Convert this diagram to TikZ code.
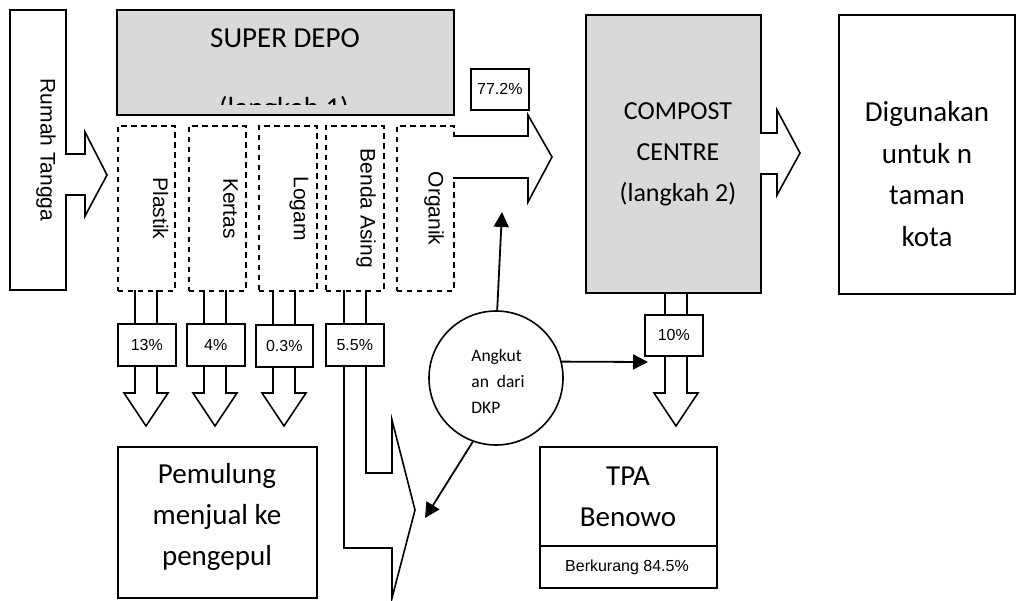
\documentclass[tikz,border=0pt]{standalone}
\usepackage{fontspec}
\setmainfont{Liberation Sans}
\newfontfamily\calfont{Carlito}
\usetikzlibrary{arrows.meta}
\tikzset{
  x=1pt, y=-1pt,
  ln/.style={line width=1.6pt, line join=miter},
  solidbox/.style={draw, ln, inner sep=0pt, anchor=north west},
  dashbox/.style={draw, ln, dash pattern=on 5.5pt off 4.5pt, inner sep=0pt, anchor=north west},
  pct/.style={draw, ln, fill=white, inner sep=0pt, anchor=north west},
  pcttext/.style={font=\fontsize{16}{19}\selectfont, inner sep=0pt},
  vtext/.style={rotate=-90, anchor=north, font=\fontsize{21}{25}\selectfont, inner sep=0pt},
  caltext/.style={font=\calfont\fontsize{26}{41}\selectfont, align=center, inner sep=0pt},
  blk/.style={ln, fill=white},
  thin/.style={line width=1.8pt, -{Triangle[length=15pt,width=15pt]}}
}
\begin{document}
\begin{tikzpicture}
\useasboundingbox (0,0) rectangle (1016,600);

% Rumah Tangga
\node[solidbox, minimum width=56pt, minimum height=280pt] (rumah) at (9,9) {};
\node[vtext] (rumahT) at (56,150) {Rumah Tangga};
\draw[blk] (65,154) -- (85,154) -- (85,132) -- (107,175) -- (85,216) -- (85,195) -- (65,195);

% Super depo
\node[solidbox, fill=black!15, minimum width=337pt, minimum height=105pt] (depo) at (116,9) {};
\node[font=\calfont\fontsize{29}{35}\selectfont, anchor=base, inner sep=0pt] (depoT) at (285,47) {SUPER DEPO};
\begin{scope}
\clip (117,10) rectangle (452,104);
\node[font=\calfont\fontsize{29}{35}\selectfont, anchor=base, inner sep=0pt] (depoL) at (284,117) {(langkah 1)};
\end{scope}

% dashed boxes
\node[dashbox, minimum width=57pt, minimum height=165pt] (plastik) at (117,125) {};
\node[dashbox, minimum width=57pt, minimum height=165pt] (kertas) at (188,125) {};
\node[dashbox, minimum width=58pt, minimum height=165pt] (logam) at (258,125) {};
\node[dashbox, minimum width=58pt, minimum height=165pt] (benda) at (325,125) {};
\node[dashbox, minimum width=57pt, minimum height=165pt] (organik) at (396,125) {};
\node[vtext] (plastikT) at (168.5,208.5) {Plastik};
\node[vtext] (kertasT) at (238,208.5) {Kertas};
\node[vtext] (logamT) at (308.5,208.5) {Logam};
\node[vtext] (bendaT) at (376,208.5) {Benda Asing};
\node[vtext] (organikT) at (444,208.5) {Organik};

% organik -> compost arrow
\draw[blk] (453,136) -- (528,136) -- (528,115) -- (552,157) -- (528,202) -- (528,178) -- (453,178);
\node[pct, minimum width=58pt, minimum height=41pt] (p772) at (470,68) {};
\node[pcttext] at (p772.center) {77.2\%};

% small down arrows
\draw[ln] (135,290) -- (135,323) (157,290) -- (157,323);
\draw[blk] (135,365) -- (135,393) -- (124,393) -- (146,426) -- (168,393) -- (157,393) -- (157,365);
\node[pct, minimum width=58pt, minimum height=42pt] (p13) at (117,323) {};
\node[pcttext] at (p13.center) {13\%};

\draw[ln] (204,290) -- (204,323) (226,290) -- (226,323);
\draw[blk] (204,365) -- (204,393) -- (193,393) -- (215,426) -- (237,393) -- (226,393) -- (226,365);
\node[pct, minimum width=58pt, minimum height=42pt] (p4) at (186,323) {};
\node[pcttext] at (p4.center) {4\%};

\draw[ln] (273,290) -- (273,324) (295,290) -- (295,324);
\draw[blk] (273,366) -- (273,393) -- (262,393) -- (284,426) -- (306,393) -- (295,393) -- (295,366);
\node[pct, minimum width=57pt, minimum height=42pt] (p03) at (255,324) {};
\node[pcttext] at (p03.center) {0.3\%};

\draw[ln] (344,290) -- (344,323) (366,290) -- (366,323);
\draw[blk] (344,365) -- (344,548) -- (392,548) -- (392,598) -- (415,510) -- (392,420) -- (392,473) -- (366,473) -- (366,365);
\node[pct, minimum width=58pt, minimum height=42pt] (p55) at (325,323) {};
\node[pcttext] at (p55.center) {5.5\%};

% Pemulung
\node[solidbox, minimum width=199pt, minimum height=151pt] (pemulung) at (117,446) {};
\node[font=\calfont\fontsize{29}{41}\selectfont, align=center, inner sep=0pt] (pemT) at (217,516.5) {Pemulung\\menjual ke\\pengepul};

% Compost centre
\node[solidbox, fill=black!15, minimum width=175pt, minimum height=278pt] (compost) at (585,14) {};
\node[caltext] (compT) at (678,154.5) {COMPOST\\CENTRE\\(langkah 2)};
\draw[blk] (760,133) -- (777,133) -- (777,110) -- (800,153) -- (777,195) -- (777,174) -- (760,174);

% Digunakan
\node[solidbox, minimum width=176pt, minimum height=279pt] (digunakan) at (838,14) {};
\node[caltext, font=\calfont\fontsize{29}{41.4}\selectfont] (digT) at (927,174) {Digunakan\\untuk n\\taman\\kota};

% compost -> TPA
\draw[ln] (665,292) -- (665,314) (687,292) -- (687,314);
\draw[blk] (665,355) -- (665,393) -- (654,393) -- (676,426) -- (698,393) -- (687,393) -- (687,355);
\node[pct, minimum width=58pt, minimum height=41pt] (p10) at (644,314) {};
\node[pcttext] at (p10.center) {10\%};

% TPA
\node[solidbox, minimum width=177pt, minimum height=141pt] (tpa) at (539,446) {};
\draw[ln] (tpa.west |- 0,546) -- (tpa.east |- 0,546);
\node[font=\calfont\fontsize{29}{41}\selectfont, align=center, inner sep=0pt] (tpaT) at (628,496.5) {TPA\\Benowo};
\node[pcttext] (berk) at (627,567) {Berkurang 84.5\%};

% DKP circle
\node[draw, ln, circle, minimum size=134pt, inner sep=0pt] (dkp) at (496,378) {};
\node[font=\calfont\fontsize{17.5}{26}\selectfont, align=left, inner sep=0pt] (dkpT) at (498,381) {Angkut\\an\ \ dari\\DKP};
\coordinate (tipA) at (502,212);
\coordinate (tipB) at (648,362);
\coordinate (tipC) at (425,518);
\draw[thin] (dkp.89) -- (tipA);
\draw[thin] (dkp.14) -- (tipB);
\draw[thin] (dkp.250) -- (tipC);
\end{tikzpicture}
\end{document}
